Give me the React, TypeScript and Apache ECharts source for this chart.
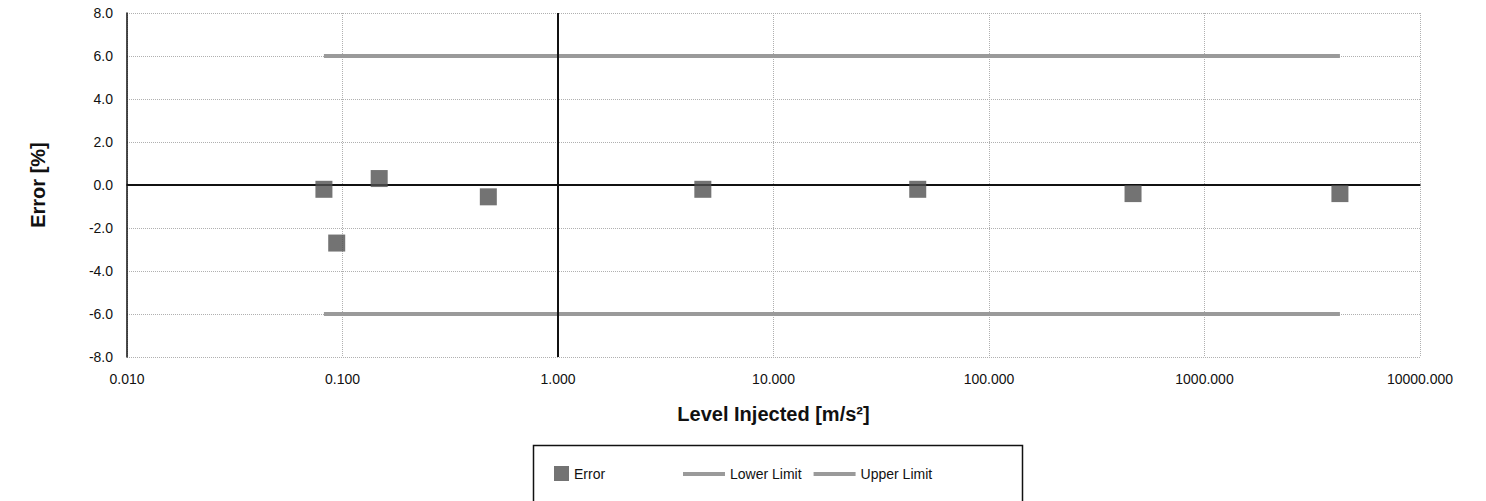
import React, { useEffect, useRef } from "react";
import * as echarts from "echarts";

const levels = [0.082, 0.094, 0.148, 0.475, 4.7, 46.7, 466, 4250];
const errors = [-0.2, -2.7, 0.3, -0.55, -0.2, -0.2, -0.4, -0.4];
const limitX = [0.082, 4250];
const lowerLimit = [-6, -6];
const upperLimit = [6, 6];
const yTicks = { min: -8, max: 8, interval: 2 };
const xRange = { min: 0.01, max: 10000 };

export default function App() {
  const ref = useRef<HTMLDivElement>(null);
  useEffect(() => {
    if (!ref.current) return;
    const chart = echarts.init(ref.current, undefined, { renderer: "svg" });
    const font = "Liberation Sans, Arial, sans-serif";
    chart.setOption({
      animation: false,
      backgroundColor: "#ffffff",
      textStyle: { fontFamily: font },
      grid: { left: 127, right: 66, top: 13, bottom: 144 },
      xAxis: {
        type: "log",
        logBase: 10,
        min: xRange.min,
        max: xRange.max,
        name: "Level Injected [m/s²]",
        nameLocation: "middle",
        nameGap: 47,
        nameTextStyle: { fontFamily: font, fontSize: 20, fontWeight: "bold", color: "#111" },
        axisLine: { show: true, lineStyle: { color: "#111", width: 1.5 } },
        axisTick: { show: false },
        minorTick: { show: false },
        axisLabel: {
          color: "#111",
          fontSize: 14,
          margin: 15,
          formatter: (v: number) => v.toFixed(3),
        },
        splitLine: { show: true, lineStyle: { color: "#b0b0b0", type: "dotted", width: 1 } },
      },
      yAxis: {
        type: "value",
        min: yTicks.min,
        max: yTicks.max,
        interval: yTicks.interval,
        name: "Error [%]",
        nameLocation: "middle",
        nameRotate: 90,
        nameGap: 79,
        nameTextStyle: { fontFamily: font, fontSize: 20, fontWeight: "bold", color: "#111" },
        axisLine: { show: true, onZero: false, lineStyle: { color: "#111", width: 1.5 } },
        axisTick: { show: false },
        axisLabel: {
          color: "#111",
          fontSize: 14,
          margin: 14,
          formatter: (v: number) => v.toFixed(1),
        },
        splitLine: { show: true, lineStyle: { color: "#b0b0b0", type: "dotted", width: 1 } },
      },
      legend: [
        {
          data: [{ name: "Error", icon: "rect" }],
          left: 549,
          top: 461,
          itemWidth: 15,
          itemHeight: 15,
          itemGap: 10,
          textStyle: { fontFamily: font, fontSize: 14, color: "#111" },
        },
        {
          data: [
            { name: "Lower Limit", icon: "rect" },
            { name: "Upper Limit", icon: "rect" },
          ],
          left: 678,
          top: 462,
          itemWidth: 42,
          itemHeight: 4,
          itemGap: 12,
          textStyle: { fontFamily: font, fontSize: 14, color: "#111" },
        },
      ],
      graphic: [
        {
          type: "rect",
          left: 531,
          top: 443,
          shape: { width: 489, height: 70 },
          style: { fill: "none", stroke: "#111", lineWidth: 1.5 },
          silent: true,
        },
      ],
      series: [
        {
          name: "Error",
          type: "scatter",
          symbol: "rect",
          symbolSize: 17,
          itemStyle: { color: "#505050" },
          data: levels.map((x, i) => [x, errors[i]]),
          z: 5,
          markLine: {
            silent: true,
            symbol: "none",
            label: { show: false },
            lineStyle: { color: "#111", type: "solid", width: 2 },
            data: [{ yAxis: 0 }, { xAxis: 1 }],
          },
        },
        {
          name: "Lower Limit",
          type: "line",
          symbol: "none",
          lineStyle: { color: "#9a9a9a", width: 4 },
          itemStyle: { color: "#9a9a9a" },
          data: limitX.map((x, i) => [x, lowerLimit[i]]),
          z: 3,
        },
        {
          name: "Upper Limit",
          type: "line",
          symbol: "none",
          lineStyle: { color: "#9a9a9a", width: 4 },
          itemStyle: { color: "#9a9a9a" },
          data: limitX.map((x, i) => [x, upperLimit[i]]),
          z: 3,
        },
      ],
    });
    return () => chart.dispose();
  }, []);
  return (
    <div
      ref={ref}
      style={{ position: "absolute", left: 0, top: 0, width: 1486, height: 501 }}
    />
  );
}
